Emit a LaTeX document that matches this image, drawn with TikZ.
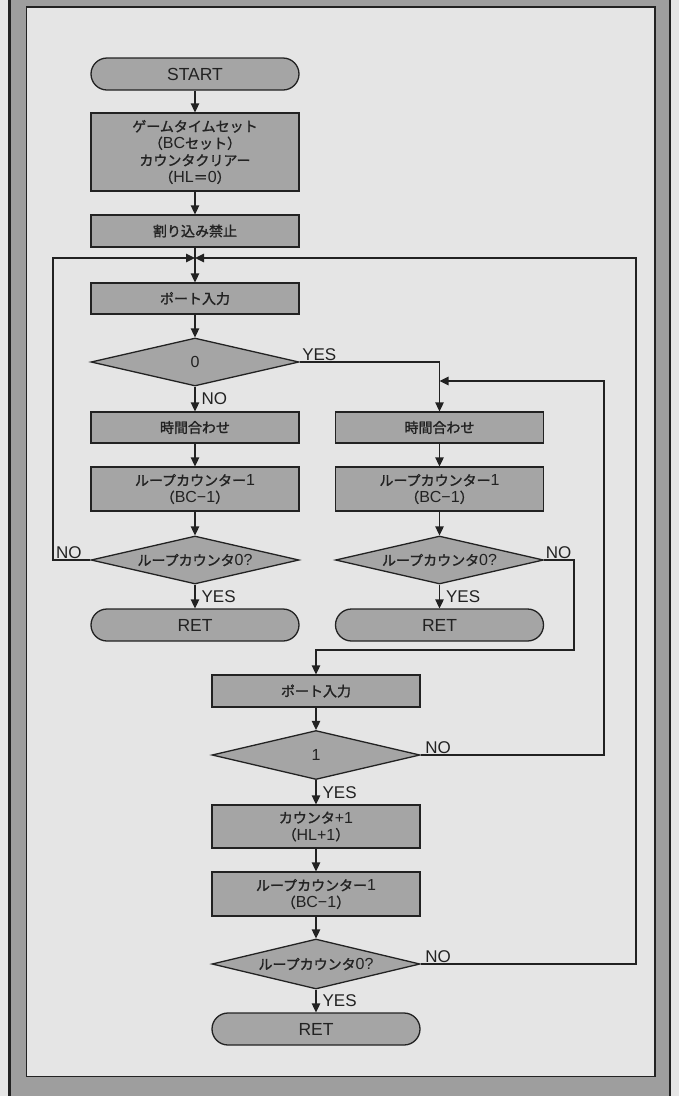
\documentclass[tikz,border=0pt]{standalone}
\usepackage{fontspec}
\setmainfont{Liberation Sans}
\newfontfamily\jpfont[FakeBold=1.5]{Noto Sans CJK JP}
\newfontfamily\latfont{Liberation Sans}
\newcommand\lat[1]{{\latfont\fontsize{16}{17}\selectfont #1}}
\usetikzlibrary{shapes.geometric,arrows.meta,positioning}

\definecolor{boxgray}{RGB}{165,165,165}
\definecolor{panelgray}{RGB}{229,229,229}
\definecolor{bandgray}{RGB}{158,158,158}
\definecolor{inkgray}{RGB}{34,34,34}

\tikzset{
  proc/.style={draw=inkgray, fill=boxgray, line width=1.3pt, minimum width=208pt,
    inner sep=0pt, align=center, text=inkgray, font=\jpfont\fontsize{14}{17}\selectfont},
  term/.style={proc, rounded corners=16pt, minimum height=32pt, font=\fontsize{17.5}{19}\selectfont},
  decide/.style={diamond, aspect=4.3, draw=inkgray, fill=boxgray, line width=1.3pt,
    minimum width=208pt, minimum height=48pt, inner sep=0pt, text=inkgray,
    font=\jpfont\fontsize{14}{17}\selectfont},
  flow/.style={draw=inkgray, line width=1.3pt, -{Triangle[length=9pt,width=8.5pt]}},
  lab/.style={font=\fontsize{17}{19}\selectfont, text=inkgray, inner sep=1pt},
}

\begin{document}
\begin{tikzpicture}[x=1pt, y=-1pt]
  \useasboundingbox (0,0) rectangle (679,1096);

  % frame
  \fill[panelgray] (0,0) rectangle (679,1096);
  \fill[bandgray] (9,0) rectangle (671,1096);
  \draw[inkgray, line width=2.5pt] (9.5,0) -- (9.5,1096);
  \draw[inkgray, line width=2.5pt] (670,0) -- (670,1096);
  \draw[draw=inkgray, fill=panelgray, line width=1.2pt] (26.5,7) rectangle (655,1076.5);

  % main column
  \node[term] (start) at (195,74) {START};
  \node[proc, minimum height=78pt] (gset) at (195,152)
    {ゲームタイムセット\\（\lat{BC}セット）\\カウンタクリアー\\（\lat{HL}＝\lat{0}）};
  \node[proc, minimum height=32pt] (kinshi) at (195,231) {割り込み禁止};
  \coordinate (J) at (195,258);
  \node[proc, minimum height=31pt] (port1) at (195,298.5) {ポート入力};
  \node[decide] (d0) at (195,362) {\lat{0}};

  % left branch
  \node[proc, minimum height=31pt] (jikanL) at (195,427.5) {時間合わせ};
  \node[proc, minimum height=44pt] (loopL) at (195,489) {ループカウンター\lat{1}\\（\lat{BC−1}）};
  \node[decide] (dL) at (195,560) {ループカウンタ\lat{0?}};
  \node[term] (retL) at (195,625) {RET};

  % right branch
  \node[proc, minimum height=31pt] (jikanR) at (439.5,427.5) {時間合わせ};
  \node[proc, minimum height=44pt] (loopR) at (439.5,489) {ループカウンター\lat{1}\\（\lat{BC−1}）};
  \node[decide] (dR) at (439.5,560) {ループカウンタ\lat{0?}};
  \node[term] (retR) at (439.5,625) {RET};

  % lower column
  \node[proc, minimum height=32pt] (port2) at (316,691) {ポート入力};
  \node[decide, minimum height=49pt] (d1) at (316,755) {\lat{1}};
  \node[proc, minimum height=43pt] (cnt) at (316,826.5) {カウンタ\lat{+1}\\（\lat{HL+1}）};
  \node[proc, minimum height=44pt] (loop3) at (316,894) {ループカウンター\lat{1}\\（\lat{BC−1}）};
  \node[decide, minimum height=50pt] (d3) at (316,964) {ループカウンタ\lat{0?}};
  \node[term] (ret3) at (316,1029) {RET};

  % bends of the return lines
  \coordinate (lbus) at (53,560);
  \coordinate (rbus) at (636,964);
  \coordinate (dRbend) at (574,650);
  \coordinate (d1bend) at (604,381);
  \coordinate (merge) at (439.5,381);

  % connectors
  \draw[flow] (start) -- (gset);
  \draw[flow] (gset) -- (kinshi);
  \draw[flow] (kinshi) -- (port1);
  \draw[flow] (port1) -- (d0);
  \draw[flow] (d0) -- node[lab, right=5pt]{NO} (jikanL);
  \draw[flow] (d0.east) node[lab, above right, xshift=1pt]{YES} -| (jikanR);

  \draw[flow] (jikanL) -- (loopL);
  \draw[flow] (loopL) -- (dL);
  \draw[flow] (dL) -- node[lab, right=5pt]{YES} (retL);
  \draw[flow] (dL.west) node[lab, above left, xshift=-7pt]{NO} -- (lbus) |- (J);

  \draw[flow] (jikanR) -- (loopR);
  \draw[flow] (loopR) -- (dR);
  \draw[flow] (dR) -- node[lab, right=5pt]{YES} (retR);
  \draw[flow] (dR.east) node[lab, above right, xshift=0pt]{NO} -| (dRbend) -| (port2);

  \draw[flow] (port2) -- (d1);
  \draw[flow] (d1) -- node[lab, right=5pt]{YES} (cnt);
  \draw[flow] (d1.east) node[lab, above right, xshift=3pt]{NO} -| (d1bend) -- (merge);
  \draw[flow] (cnt) -- (loop3);
  \draw[flow] (loop3) -- (d3);
  \draw[flow] (d3) -- node[lab, right=5pt]{YES} (ret3);
  \draw[flow] (d3.east) node[lab, above right, xshift=3pt]{NO} -- (rbus) |- (J);
\end{tikzpicture}
\end{document}
